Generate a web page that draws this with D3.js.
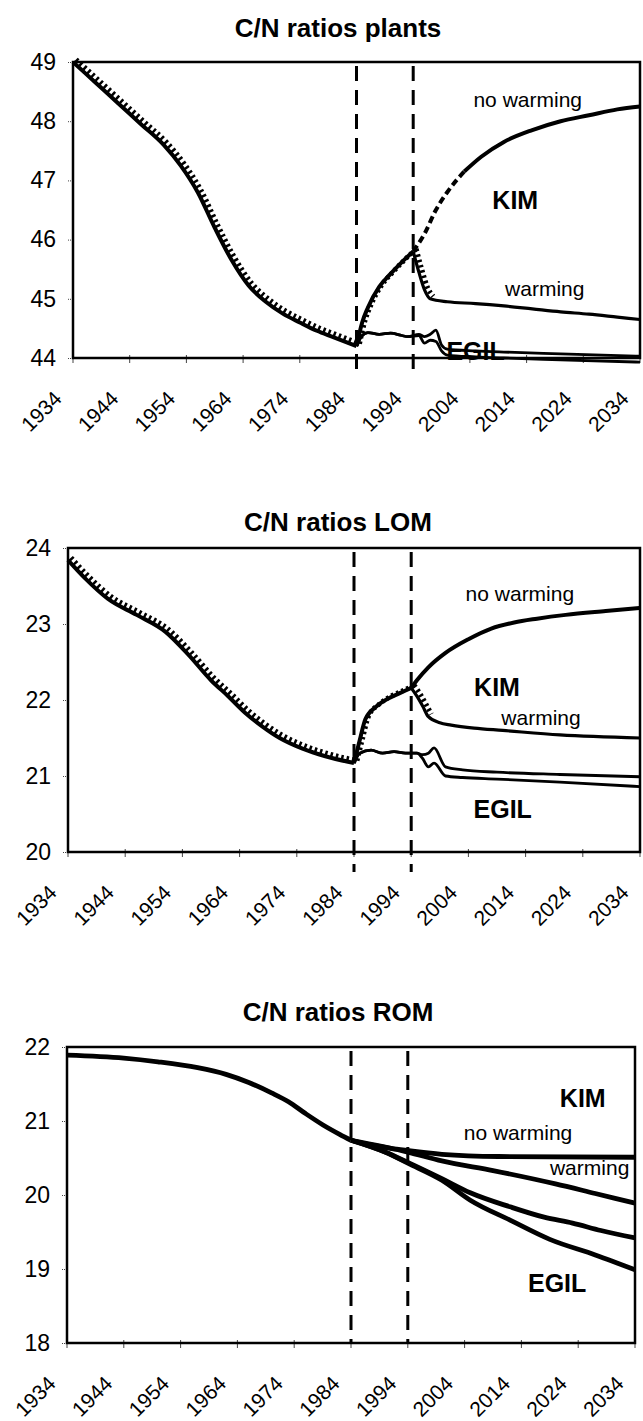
<!DOCTYPE html>
<html>
<head>
<meta charset="utf-8">
<script src="https://cdn.jsdelivr.net/npm/d3@7"></script>
<style>
  body { margin: 0; background: #fff; }
  svg { display: block; }
  text { font-family: "Liberation Sans", Arial, sans-serif; fill: #000; }
</style>
</head>
<body>
<svg id="chart" width="643" height="1421"></svg>
<script>
// x axis categories (every 10 years) and the two period markers
const xTickLabels = [1934, 1944, 1954, 1964, 1974, 1984, 1994, 2004, 2014, 2024, 2034];
const markerYears = [1984, 1994];

// ---- plants ----
const plantsHistYears = [1934, 1938, 1942, 1946, 1950, 1953, 1956, 1959, 1962, 1965, 1968, 1971, 1974, 1977, 1980, 1984];
const plantsHist      = [49.0, 48.65, 48.3, 47.95, 47.6, 47.25, 46.8, 46.2, 45.65, 45.22, 44.95, 44.75, 44.6, 44.46, 44.35, 44.2];
const plantsKimYears  = [1984, 1985, 1986, 1988, 1990, 1992, 1994];
const plantsKim       = [44.2, 44.6, 44.85, 45.2, 45.42, 45.62, 45.8];
const plantsNoWarmYears = [1994, 1996, 1998, 2000, 2003, 2006, 2010, 2015, 2020, 2025, 2030, 2034];
const plantsNoWarm      = [45.8, 46.1, 46.5, 46.8, 47.15, 47.4, 47.65, 47.85, 48.0, 48.1, 48.2, 48.25];
const plantsWarmYears = [1994, 1995, 1996, 1997, 2000, 2005, 2010, 2015, 2020, 2025, 2030, 2034];
const plantsWarm      = [45.8, 45.45, 45.15, 45.0, 44.95, 44.92, 44.88, 44.83, 44.78, 44.74, 44.69, 44.65];
const plantsEgilAYears = [1984, 1985, 1986, 1988, 1990, 1992, 1993, 1995, 1996, 1997, 1998, 1999, 2000, 2005, 2010, 2020, 2034];
const plantsEgilA      = [44.2, 44.38, 44.43, 44.4, 44.42, 44.38, 44.36, 44.4, 44.36, 44.4, 44.47, 44.22, 44.15, 44.12, 44.1, 44.07, 44.03];
const plantsEgilBYears = [1984, 1985, 1986, 1988, 1990, 1992, 1993, 1995, 1996, 1997, 1998, 1999, 2000, 2005, 2010, 2020, 2034];
const plantsEgilB      = [44.2, 44.38, 44.43, 44.4, 44.42, 44.38, 44.36, 44.38, 44.25, 44.3, 44.28, 44.12, 44.05, 44.02, 44.0, 43.97, 43.93];

// ---- LOM ----
const lomHistYears = [1934, 1937, 1941, 1946, 1951, 1955, 1959, 1962, 1965, 1968, 1971, 1975, 1979, 1984];
const lomHist      = [23.84, 23.6, 23.33, 23.12, 22.9, 22.6, 22.26, 22.05, 21.83, 21.65, 21.5, 21.36, 21.26, 21.17];
const lomKimYears  = [1984, 1985, 1986, 1988, 1990, 1992, 1994];
const lomKim       = [21.17, 21.47, 21.75, 21.92, 22.02, 22.09, 22.16];
const lomNoWarmYears = [1994, 1995, 1997, 2000, 2004, 2008, 2012, 2016, 2021, 2028, 2034];
const lomNoWarm      = [22.16, 22.26, 22.43, 22.62, 22.8, 22.94, 23.02, 23.07, 23.12, 23.17, 23.21];
const lomWarmYears = [1994, 1995, 1996, 1997, 1999, 2001, 2005, 2010, 2020, 2034];
const lomWarm      = [22.16, 22.05, 21.92, 21.78, 21.7, 21.67, 21.63, 21.6, 21.54, 21.5];
const lomEgilAYears = [1984, 1985, 1987, 1989, 1991, 1993, 1995, 1996, 1997, 1998, 2000, 2003, 2009, 2020, 2034];
const lomEgilA      = [21.17, 21.3, 21.34, 21.3, 21.32, 21.3, 21.3, 21.28, 21.3, 21.37, 21.12, 21.08, 21.05, 21.02, 20.99];
const lomEgilBYears = [1984, 1985, 1987, 1989, 1991, 1993, 1995, 1996, 1997, 1998, 2000, 2003, 2009, 2020, 2034];
const lomEgilB      = [21.17, 21.3, 21.34, 21.3, 21.32, 21.3, 21.3, 21.23, 21.12, 21.17, 21.0, 20.98, 20.96, 20.92, 20.86];

// ---- ROM ----
const romHistYears = [1934, 1944, 1950, 1957, 1962, 1966, 1970, 1973, 1976, 1979, 1982, 1984];
const romHist      = [21.89, 21.85, 21.8, 21.72, 21.63, 21.52, 21.38, 21.26, 21.1, 20.95, 20.82, 20.74];
const romKimNoWarmYears = [1984, 1988, 1991, 1994, 2000, 2010, 2034];
const romKimNoWarm      = [20.74, 20.67, 20.63, 20.6, 20.55, 20.52, 20.51];
const romKimWarmYears = [1984, 1994, 2000, 2009, 2020, 2027, 2034];
const romKimWarm      = [20.74, 20.58, 20.46, 20.33, 20.15, 20.02, 19.89];
const romEgilAYears = [1984, 1990, 1994, 2000, 2005, 2012, 2018, 2023, 2028, 2034];
const romEgilA      = [20.74, 20.58, 20.44, 20.22, 20.03, 19.84, 19.7, 19.62, 19.52, 19.42];
const romEgilBYears = [1984, 1990, 1994, 2000, 2005, 2012, 2019, 2027, 2034];
const romEgilB      = [20.74, 20.58, 20.43, 20.2, 19.93, 19.66, 19.4, 19.19, 18.99];

const zip = (xs, vs) => xs.map((x, i) => ({ year: x, value: vs[i] }));

const svg = d3.select("#chart");

const panels = [
  {
    title: "C/N ratios plants", titleY: 37,
    left: 73, right: 640, top: 62, bottom: 358,
    yDomain: [44, 49], yTicks: [44, 45, 46, 47, 48, 49],
    width: 4, dashBelow: 20,
    series: [
      { d: zip(plantsHistYears, plantsHist), teeth: true },
      { d: zip(plantsKimYears, plantsKim), teeth: true },
      { d: zip(plantsNoWarmYears, plantsNoWarm).filter(p => p.year <= 2004), dash: "7,4" },
      { d: zip(plantsNoWarmYears, plantsNoWarm).filter(p => p.year >= 2003) },
      { d: zip(plantsWarmYears, plantsWarm), width: 3.2, teeth: true, teethTo: 1998 },
      { d: zip(plantsEgilAYears, plantsEgilA), width: 2.8 },
      { d: zip(plantsEgilBYears, plantsEgilB), width: 2.8 }
    ],
    notes: [
      { t: "no warming", year: 2014.2, value: 48.24 },
      { t: "KIM", year: 2012, value: 46.52, bold: true },
      { t: "warming", year: 2017.2, value: 45.05 },
      { t: "EGIL", year: 2005, value: 43.97, bold: true }
    ]
  },
  {
    title: "C/N ratios LOM", titleY: 531,
    left: 68, right: 640, top: 548, bottom: 852,
    yDomain: [20, 24], yTicks: [20, 21, 22, 23, 24],
    width: 4, dashBelow: 20,
    series: [
      { d: zip(lomHistYears, lomHist), teeth: true },
      { d: zip(lomKimYears, lomKim), teeth: true },
      { d: zip(lomNoWarmYears, lomNoWarm) },
      { d: zip(lomWarmYears, lomWarm), width: 3.2, teeth: true, teethTo: 1998 },
      { d: zip(lomEgilAYears, lomEgilA), width: 2.8 },
      { d: zip(lomEgilBYears, lomEgilB), width: 2.8 }
    ],
    notes: [
      { t: "no warming", year: 2013, value: 23.3 },
      { t: "KIM", year: 2009, value: 22.05, bold: true },
      { t: "warming", year: 2016.7, value: 21.67 },
      { t: "EGIL", year: 2010, value: 20.45, bold: true }
    ]
  },
  {
    title: "C/N ratios ROM", titleY: 1021,
    left: 67, right: 635, top: 1047, bottom: 1343,
    yDomain: [18, 22], yTicks: [18, 19, 20, 21, 22],
    width: 4.8, dashBelow: 0,
    series: [
      { d: zip(romHistYears, romHist) },
      { d: zip(romKimNoWarmYears, romKimNoWarm) },
      { d: zip(romKimWarmYears, romKimWarm) },
      { d: zip(romEgilAYears, romEgilA) },
      { d: zip(romEgilBYears, romEgilB) }
    ],
    notes: [
      { t: "KIM", year: 2024.8, value: 21.19, bold: true },
      { t: "no warming", year: 2013.4, value: 20.74 },
      { t: "warming", year: 2033, value: 20.27, anchor: "end" },
      { t: "EGIL", year: 2020.3, value: 18.69, bold: true }
    ]
  }
];

function drawPanel(p) {
  const x = d3.scaleLinear().domain([1934, 2034]).range([p.left, p.right]);
  const y = d3.scaleLinear().domain(p.yDomain).range([p.bottom, p.top]);
  const g = svg.append("g");

  g.append("text")
    .attr("x", 338).attr("y", p.titleY)
    .attr("text-anchor", "middle")
    .style("font-size", "26px").style("font-weight", "bold")
    .text(p.title);

  // y axis labels and little dotted ticks
  const ya = g.append("g")
    .attr("transform", `translate(${p.left},0)`)
    .call(d3.axisLeft(y).tickValues(p.yTicks).tickSize(6).tickPadding(11).tickFormat(d3.format("d")));
  ya.select(".domain").remove();
  ya.selectAll(".tick line").attr("stroke", "#444").attr("stroke-dasharray", "1,1");
  ya.selectAll(".tick text").style("font-size", "23px").style("font-family", "Liberation Sans, Arial, sans-serif");

  // x ticks and rotated year labels
  const xa = g.append("g");
  xa.selectAll("line").data(xTickLabels).join("line")
    .attr("x1", d => x(d)).attr("x2", d => x(d))
    .attr("y1", p.bottom - 3).attr("y2", p.bottom + 5)
    .attr("stroke", "#444").attr("stroke-width", 1);
  xa.selectAll("text").data(xTickLabels).join("text")
    .attr("text-anchor", "end")
    .attr("transform", d => `translate(${x(d) - 10},${p.bottom + 42}) rotate(-45)`)
    .style("font-size", "21px")
    .text(d => d);

  // annotations go under the lines
  g.selectAll(".note").data(p.notes).join("text")
    .attr("class", "note")
    .attr("x", d => x(d.year)).attr("y", d => y(d.value))
    .attr("text-anchor", d => d.anchor || "middle")
    .style("font-size", d => d.bold ? "25px" : "21px")
    .style("font-weight", d => d.bold ? "bold" : "normal")
    .text(d => d.t);

  // frame
  g.append("rect")
    .attr("x", p.left).attr("y", p.top)
    .attr("width", p.right - p.left).attr("height", p.bottom - p.top)
    .attr("fill", "none").attr("stroke", "#000").attr("stroke-width", 2.5);

  // period markers
  g.selectAll(".marker").data(markerYears).join("line")
    .attr("class", "marker")
    .attr("x1", d => x(d)).attr("x2", d => x(d))
    .attr("y1", p.top + 4).attr("y2", p.bottom + p.dashBelow)
    .attr("stroke", "#000").attr("stroke-width", 3)
    .attr("stroke-dasharray", "15,9");

  const line = d3.line()
    .x(d => x(d.year)).y(d => y(d.value))
    .curve(d3.curveMonotoneX);

  p.series.forEach(s => {
    if (s.teeth) {
      const td = s.teethTo ? s.d.filter(q => q.year <= s.teethTo) : s.d;
      g.append("path")
        .attr("d", line(td))
        .attr("transform", "translate(3,-2.5)")
        .attr("fill", "none").attr("stroke", "#000")
        .attr("stroke-width", 5).attr("stroke-dasharray", "2.5,3");
    }
    g.append("path")
      .attr("d", line(s.d))
      .attr("fill", "none").attr("stroke", "#000")
      .attr("stroke-width", s.width || p.width)
      .attr("stroke-dasharray", s.dash || null)
      .attr("stroke-linejoin", "round");
  });
}

panels.forEach(drawPanel);
</script>
</body>
</html>
